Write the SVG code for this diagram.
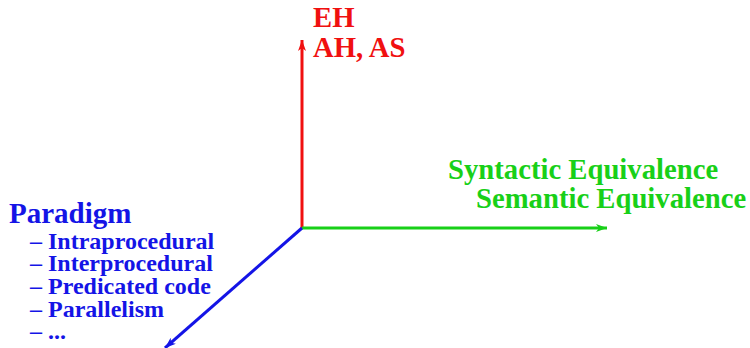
<svg xmlns="http://www.w3.org/2000/svg" width="750" height="348" viewBox="0 0 750 348">
<style>
text{font-family:"Liberation Serif","Times New Roman",serif;font-weight:bold}
.r{fill:#f01010}.g{fill:#18d018}.b{fill:#1414e6}
.big{font-size:29px}.med{font-size:28.7px}.sm{font-size:24px}
</style>
<defs>
<marker id="ar-r" markerWidth="12" markerHeight="8" refX="11" refY="4" orient="auto" markerUnits="userSpaceOnUse"><path d="M0,0 L11,4 L0,8 L3,4 Z" fill="#f01010"/></marker>
<marker id="ar-g" markerWidth="12" markerHeight="8" refX="11" refY="4" orient="auto" markerUnits="userSpaceOnUse"><path d="M0,0 L11,4 L0,8 L3,4 Z" fill="#18d018"/></marker>
<marker id="ar-b" markerWidth="12" markerHeight="8" refX="11" refY="4" orient="auto" markerUnits="userSpaceOnUse"><path d="M0,0 L11,4 L0,8 L3,4 Z" fill="#1414e6"/></marker>
</defs>
<g id="connectors" stroke-width="3" fill="none">
<line x1="302" y1="228" x2="302" y2="40" stroke="#f01010" marker-end="url(#ar-r)"/>
<line x1="302" y1="228" x2="607" y2="228" stroke="#18d018" marker-end="url(#ar-g)"/>
<line x1="302" y1="228" x2="165" y2="348" stroke="#1414e6" marker-end="url(#ar-b)"/>
</g>
<g id="vertical">
<text class="r med" x="313" y="27">EH</text>
<text class="r med" x="313" y="57">AH, AS</text>
</g>
<g id="horizontal">
<text class="g med" x="448" y="179">Syntactic Equivalence</text>
<text class="g med" x="476" y="208">Semantic Equivalence</text>
</g>
<g id="paradigm">
<text class="b big" x="9" y="223">Paradigm</text>
<text class="b sm" x="30" y="249">– Intraprocedural</text>
<text class="b sm" x="30" y="271">– Interprocedural</text>
<text class="b sm" x="30" y="294">– Predicated code</text>
<text class="b sm" x="30" y="317">– Parallelism</text>
<text class="b sm" x="30" y="339">– ...</text>
</g>
</svg>
